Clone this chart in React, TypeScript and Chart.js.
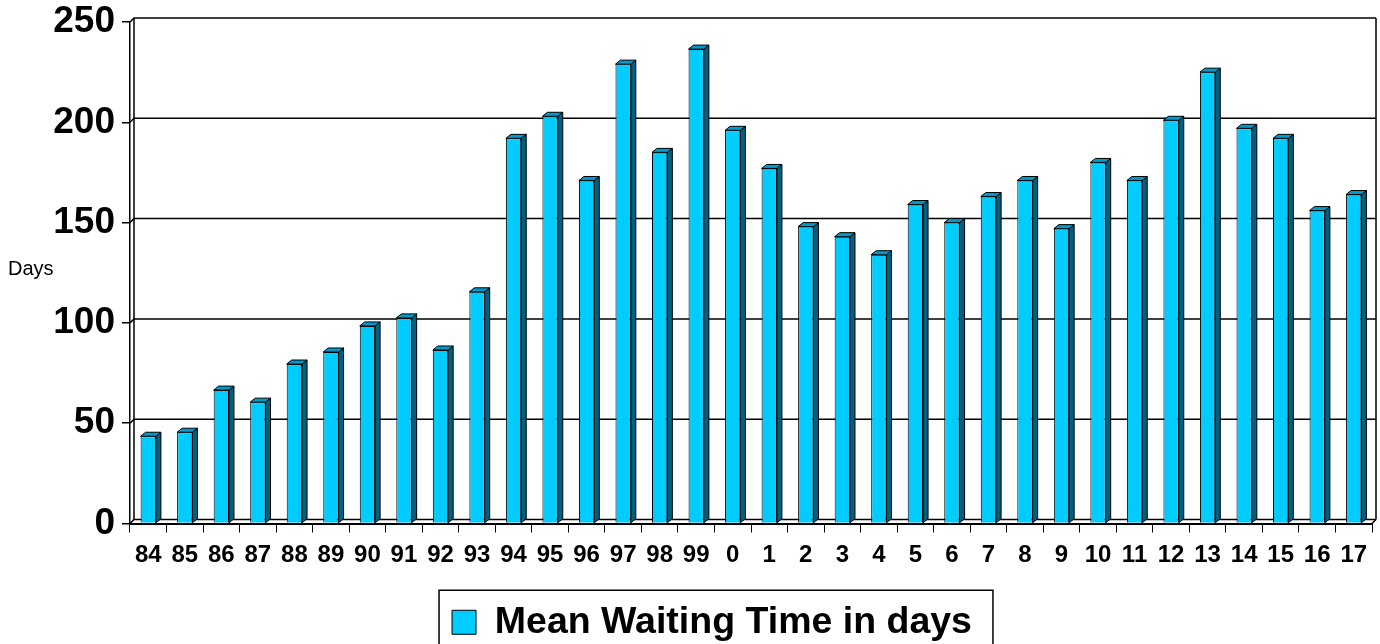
import React, { useEffect, useRef } from "react";
import { Chart, registerables } from "chart.js";

Chart.register(...registerables);

// ---- data ----
const categories = [
  "84", "85", "86", "87", "88", "89", "90", "91", "92", "93", "94", "95", "96", "97", "98", "99",
  "0", "1", "2", "3", "4", "5", "6", "7", "8", "9", "10", "11", "12", "13", "14", "15", "16", "17",
];
const waitingDays = [
  43.5, 45.5, 66.5, 60.5, 79.5, 85.5, 98.5, 102.5, 86.5, 115.5, 192, 203, 171, 229, 185, 236.5,
  196, 177, 148, 143, 134, 159, 150, 163, 171, 147, 180, 171, 201, 225, 197, 192, 156, 164,
];
const yTickValues = [0, 50, 100, 150, 200, 250];
const seriesLabel = "Mean Waiting Time in days";
const yAxisTitle = "Days";

// ---- style ----
const FONT = '"Liberation Sans", Arial, Helvetica, sans-serif';
const FRONT = "#00CCFF";
const SIDE = "#006080";
const TOP = "#0099CC";
const WALL_DX = 4;
const WALL_DY = 4;
const BAR_DX = 5;
const BAR_DY = 4;
const W = 1380;
const H = 644;
const PLOT_BOTTOM = 523.5;

const threeDPlugin = {
  id: "threeD",
  afterLayout(chart: any) {
    const lg = chart.legend;
    if (lg) {
      lg.left += 26;
      lg.right += 26;
      lg.top += 7;
      lg.bottom += 7;
    }
  },
  beforeDatasetsDraw(chart: any) {
    const { ctx, chartArea } = chart;
    const ys = chart.scales.y;
    const left = chartArea.left;
    const right = chartArea.right;
    const topY = ys.getPixelForValue(yTickValues[yTickValues.length - 1]);
    const botY = ys.getPixelForValue(0);
    ctx.save();
    ctx.strokeStyle = "#000";
    ctx.lineWidth = 1.5;
    for (const v of yTickValues) {
      const py = ys.getPixelForValue(v);
      ctx.beginPath();
      ctx.moveTo(left, py);
      ctx.lineTo(left + WALL_DX, py - WALL_DY);
      ctx.lineTo(right + WALL_DX, py - WALL_DY);
      ctx.stroke();
    }
    ctx.beginPath();
    ctx.moveTo(left + WALL_DX, topY - WALL_DY);
    ctx.lineTo(left + WALL_DX, botY - WALL_DY);
    ctx.moveTo(right + WALL_DX, topY - WALL_DY);
    ctx.lineTo(right + WALL_DX, botY - WALL_DY);
    ctx.moveTo(right, botY);
    ctx.lineTo(right + WALL_DX, botY - WALL_DY);
    ctx.stroke();
    ctx.restore();
  },
  afterDatasetsDraw(chart: any) {
    const { ctx } = chart;
    const meta = chart.getDatasetMeta(0);
    ctx.save();
    ctx.strokeStyle = "#000";
    ctx.lineWidth = 1;
    meta.data.forEach((bar: any) => {
      const { x, y, base, width } = bar.getProps(["x", "y", "base", "width"], true);
      const l = x - width / 2;
      const r = x + width / 2;
      ctx.fillStyle = SIDE;
      ctx.beginPath();
      ctx.moveTo(r, y);
      ctx.lineTo(r + BAR_DX, y - BAR_DY);
      ctx.lineTo(r + BAR_DX, base - BAR_DY);
      ctx.lineTo(r, base);
      ctx.closePath();
      ctx.fill();
      ctx.stroke();
      ctx.fillStyle = TOP;
      ctx.beginPath();
      ctx.moveTo(l, y);
      ctx.lineTo(l + BAR_DX, y - BAR_DY);
      ctx.lineTo(r + BAR_DX, y - BAR_DY);
      ctx.lineTo(r, y);
      ctx.closePath();
      ctx.fill();
      ctx.stroke();
    });
    ctx.restore();
  },
  afterDraw(chart: any) {
    const { ctx } = chart;
    const lg = chart.legend;
    ctx.save();
    if (lg && lg.legendHitBoxes && lg.legendHitBoxes.length) {
      const hb = lg.legendHitBoxes[0];
      const cy = hb.top + hb.height / 2;
      ctx.strokeStyle = "#000";
      ctx.lineWidth = 1.5;
      ctx.strokeRect(hb.left - 13, cy - 32, hb.width + 34, 66);
    }
    ctx.fillStyle = "#000";
    ctx.font = `20px ${FONT}`;
    ctx.textAlign = "left";
    ctx.textBaseline = "alphabetic";
    ctx.fillText(yAxisTitle, 8, 275);
    ctx.restore();
  },
};

export default function App() {
  const ref = useRef<HTMLCanvasElement | null>(null);

  useEffect(() => {
    document.body.style.margin = "0";
    document.body.style.overflow = "hidden";
    const canvas = ref.current;
    if (!canvas) return;
    const chart = new Chart(canvas, {
      type: "bar",
      data: {
        labels: categories,
        datasets: [
          {
            label: seriesLabel,
            data: waitingDays,
            backgroundColor: FRONT,
            borderColor: "#000",
            borderWidth: 1,
            categoryPercentage: 1,
            barPercentage: 0.42,
          },
        ],
      },
      options: {
        animation: false,
        responsive: false,
        devicePixelRatio: 1,
        layout: { padding: { top: 22, right: 8, left: 0, bottom: 0 } },
        plugins: {
          tooltip: { enabled: false },
          legend: {
            display: true,
            position: "bottom",
            labels: {
              font: { size: 37.5, weight: "bold", family: FONT },
              color: "#000",
              boxWidth: 24,
              boxHeight: 24,
              padding: 10,
            },
          },
        },
        scales: {
          x: {
            type: "category",
            grid: {
              display: true,
              drawOnChartArea: false,
              drawTicks: true,
              tickLength: 9,
              color: "#000",
              lineWidth: 1,
              offset: true,
            },
            border: { display: true, color: "#000", width: 2 },
            ticks: {
              font: { size: 24, weight: "bold", family: FONT },
              color: "#000",
              padding: 8,
              maxRotation: 0,
              autoSkip: false,
            },
            afterFit(s: any) {
              const lh = s.chart.legend ? s.chart.legend.height : 0;
              s.height = H - PLOT_BOTTOM - lh;
              s.paddingLeft = 0;
              s.paddingRight = 0;
            },
          },
          y: {
            min: 0,
            max: 250,
            afterBuildTicks(s: any) {
              s.ticks = yTickValues.map((v) => ({ value: v }));
            },
            grid: {
              display: true,
              drawOnChartArea: false,
              drawTicks: true,
              tickLength: 8,
              color: "#000",
              lineWidth: 1.5,
            },
            border: { display: true, color: "#000", width: 1.5 },
            ticks: {
              font: { size: 37, weight: "bold", family: FONT },
              color: "#000",
              padding: 7,
            },
            afterFit(s: any) {
              s.width = 130;
              s.paddingTop = 0;
              s.paddingBottom = 0;
            },
          },
        },
      },
      plugins: [threeDPlugin],
    } as any);
    return () => chart.destroy();
  }, []);

  return (
    <div style={{ width: W, height: H, overflow: "hidden", background: "#fff" }}>
      <canvas ref={ref} width={W} height={H} style={{ display: "block" }} />
    </div>
  );
}
